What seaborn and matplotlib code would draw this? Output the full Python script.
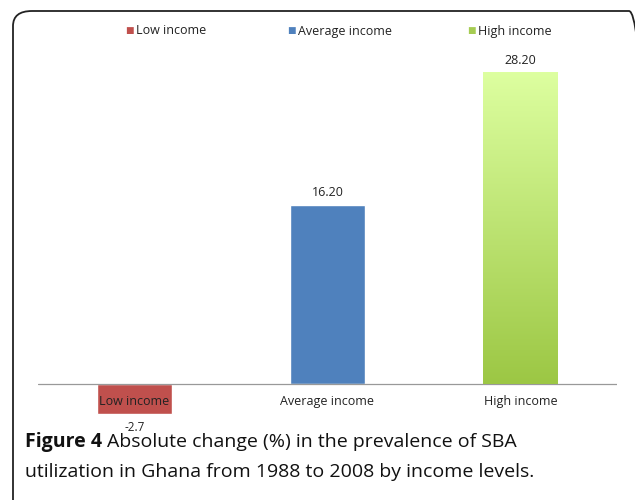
import numpy as np
import pandas as pd
import matplotlib
matplotlib.use("Agg")
import matplotlib.pyplot as plt
from matplotlib.patches import FancyBboxPatch
from matplotlib.colors import LinearSegmentedColormap
import seaborn as sns

groups = ["Low income", "Average income", "High income"]
change = [-2.7, 16.2, 28.2]
value_labels = ["-2.7", "16.20", "28.20"]
colors = ["#c0504d", "#4f81bd", "#a6cc52"]

df = pd.DataFrame({"group": groups, "change": change})

sns.set_style("white")
plt.rcParams["font.family"] = ["Open Sans", "DejaVu Sans"]

fig = plt.figure(figsize=(6.35, 5.0), dpi=100)

# rounded frame around the figure
frame = FancyBboxPatch((13 / 635, -0.05), 1.0, 1.0 - 11 / 500 + 0.05,
                       boxstyle="round,pad=0,rounding_size=0.03",
                       transform=fig.transFigure, fill=False,
                       edgecolor="#222222", linewidth=1.3, clip_on=False)
fig.add_artist(frame)

ax = fig.add_axes([38 / 635, 1 - 439 / 500, 579 / 635, 387 / 500])
sns.barplot(data=df, x="group", y="change", hue="group", palette=colors,
            width=0.385, legend=False, ax=ax, saturation=1)

ax.set_ylim(-5, 30)
ax.set_xlim(-0.5, 2.5)
ax.axhline(0, color="#999999", linewidth=0.9, zorder=1)
for s in ax.spines.values():
    s.set_visible(False)
ax.set_yticks([])
ax.set_xticks([])
ax.set_xlabel("")
ax.set_ylabel("")

# gradient fill for the high income bar
hi = ax.patches[2]
hx, hw = hi.get_x(), hi.get_width()
cmap = LinearSegmentedColormap.from_list("g", ["#9cc744", "#ddffa0"])
grad = np.linspace(0, 1, 256).reshape(-1, 1)
im = ax.imshow(grad, cmap=cmap, aspect="auto", origin="lower",
               extent=[hx, hx + hw, 0, change[2]], zorder=3)
im.set_clip_path(hi)
ax.set_xlim(-0.5, 2.5)
ax.set_ylim(-5, 30)

# category labels just under the baseline
for i, g in enumerate(groups):
    ax.text(i, -1.65, g, ha="center", va="center", fontsize=9, color="#222222", zorder=5)

# value labels
for i, (v, lab) in enumerate(zip(change, value_labels)):
    if v < 0:
        ax.text(i, v - 1.3, lab, ha="center", va="center", fontsize=8.5, color="#222222")
    else:
        ax.text(i, v + 1.05, lab, ha="center", va="center", fontsize=9, color="#222222")

# legend along the top
legend_x = [129, 291, 471]
for x, g, c in zip(legend_x, groups, colors):
    fig.text(x / 635, 1 - 31 / 500, "■", color=c, fontsize=6.5, ha="center", va="center",
             family=["DejaVu Sans"])
    fig.text((x + 7) / 635, 1 - 31 / 500, g, fontsize=9, ha="left", va="center", color="#222222")

# caption
cap1 = fig.text(25 / 635, 1 - 442 / 500, "Figure 4", fontsize=14, fontweight="bold",
                ha="left", va="center", color="#111111")
fig.canvas.draw()
bb = cap1.get_window_extent()
fig.text((bb.x1 + 5) / 635, 1 - 442 / 500, "Absolute change (%) in the prevalence of SBA",
         fontsize=14, ha="left", va="center", color="#111111")
fig.text(25 / 635, 1 - 472 / 500, "utilization in Ghana from 1988 to 2008 by income levels.",
         fontsize=14, ha="left", va="center", color="#111111")

fig.savefig("out.png", dpi=100)
